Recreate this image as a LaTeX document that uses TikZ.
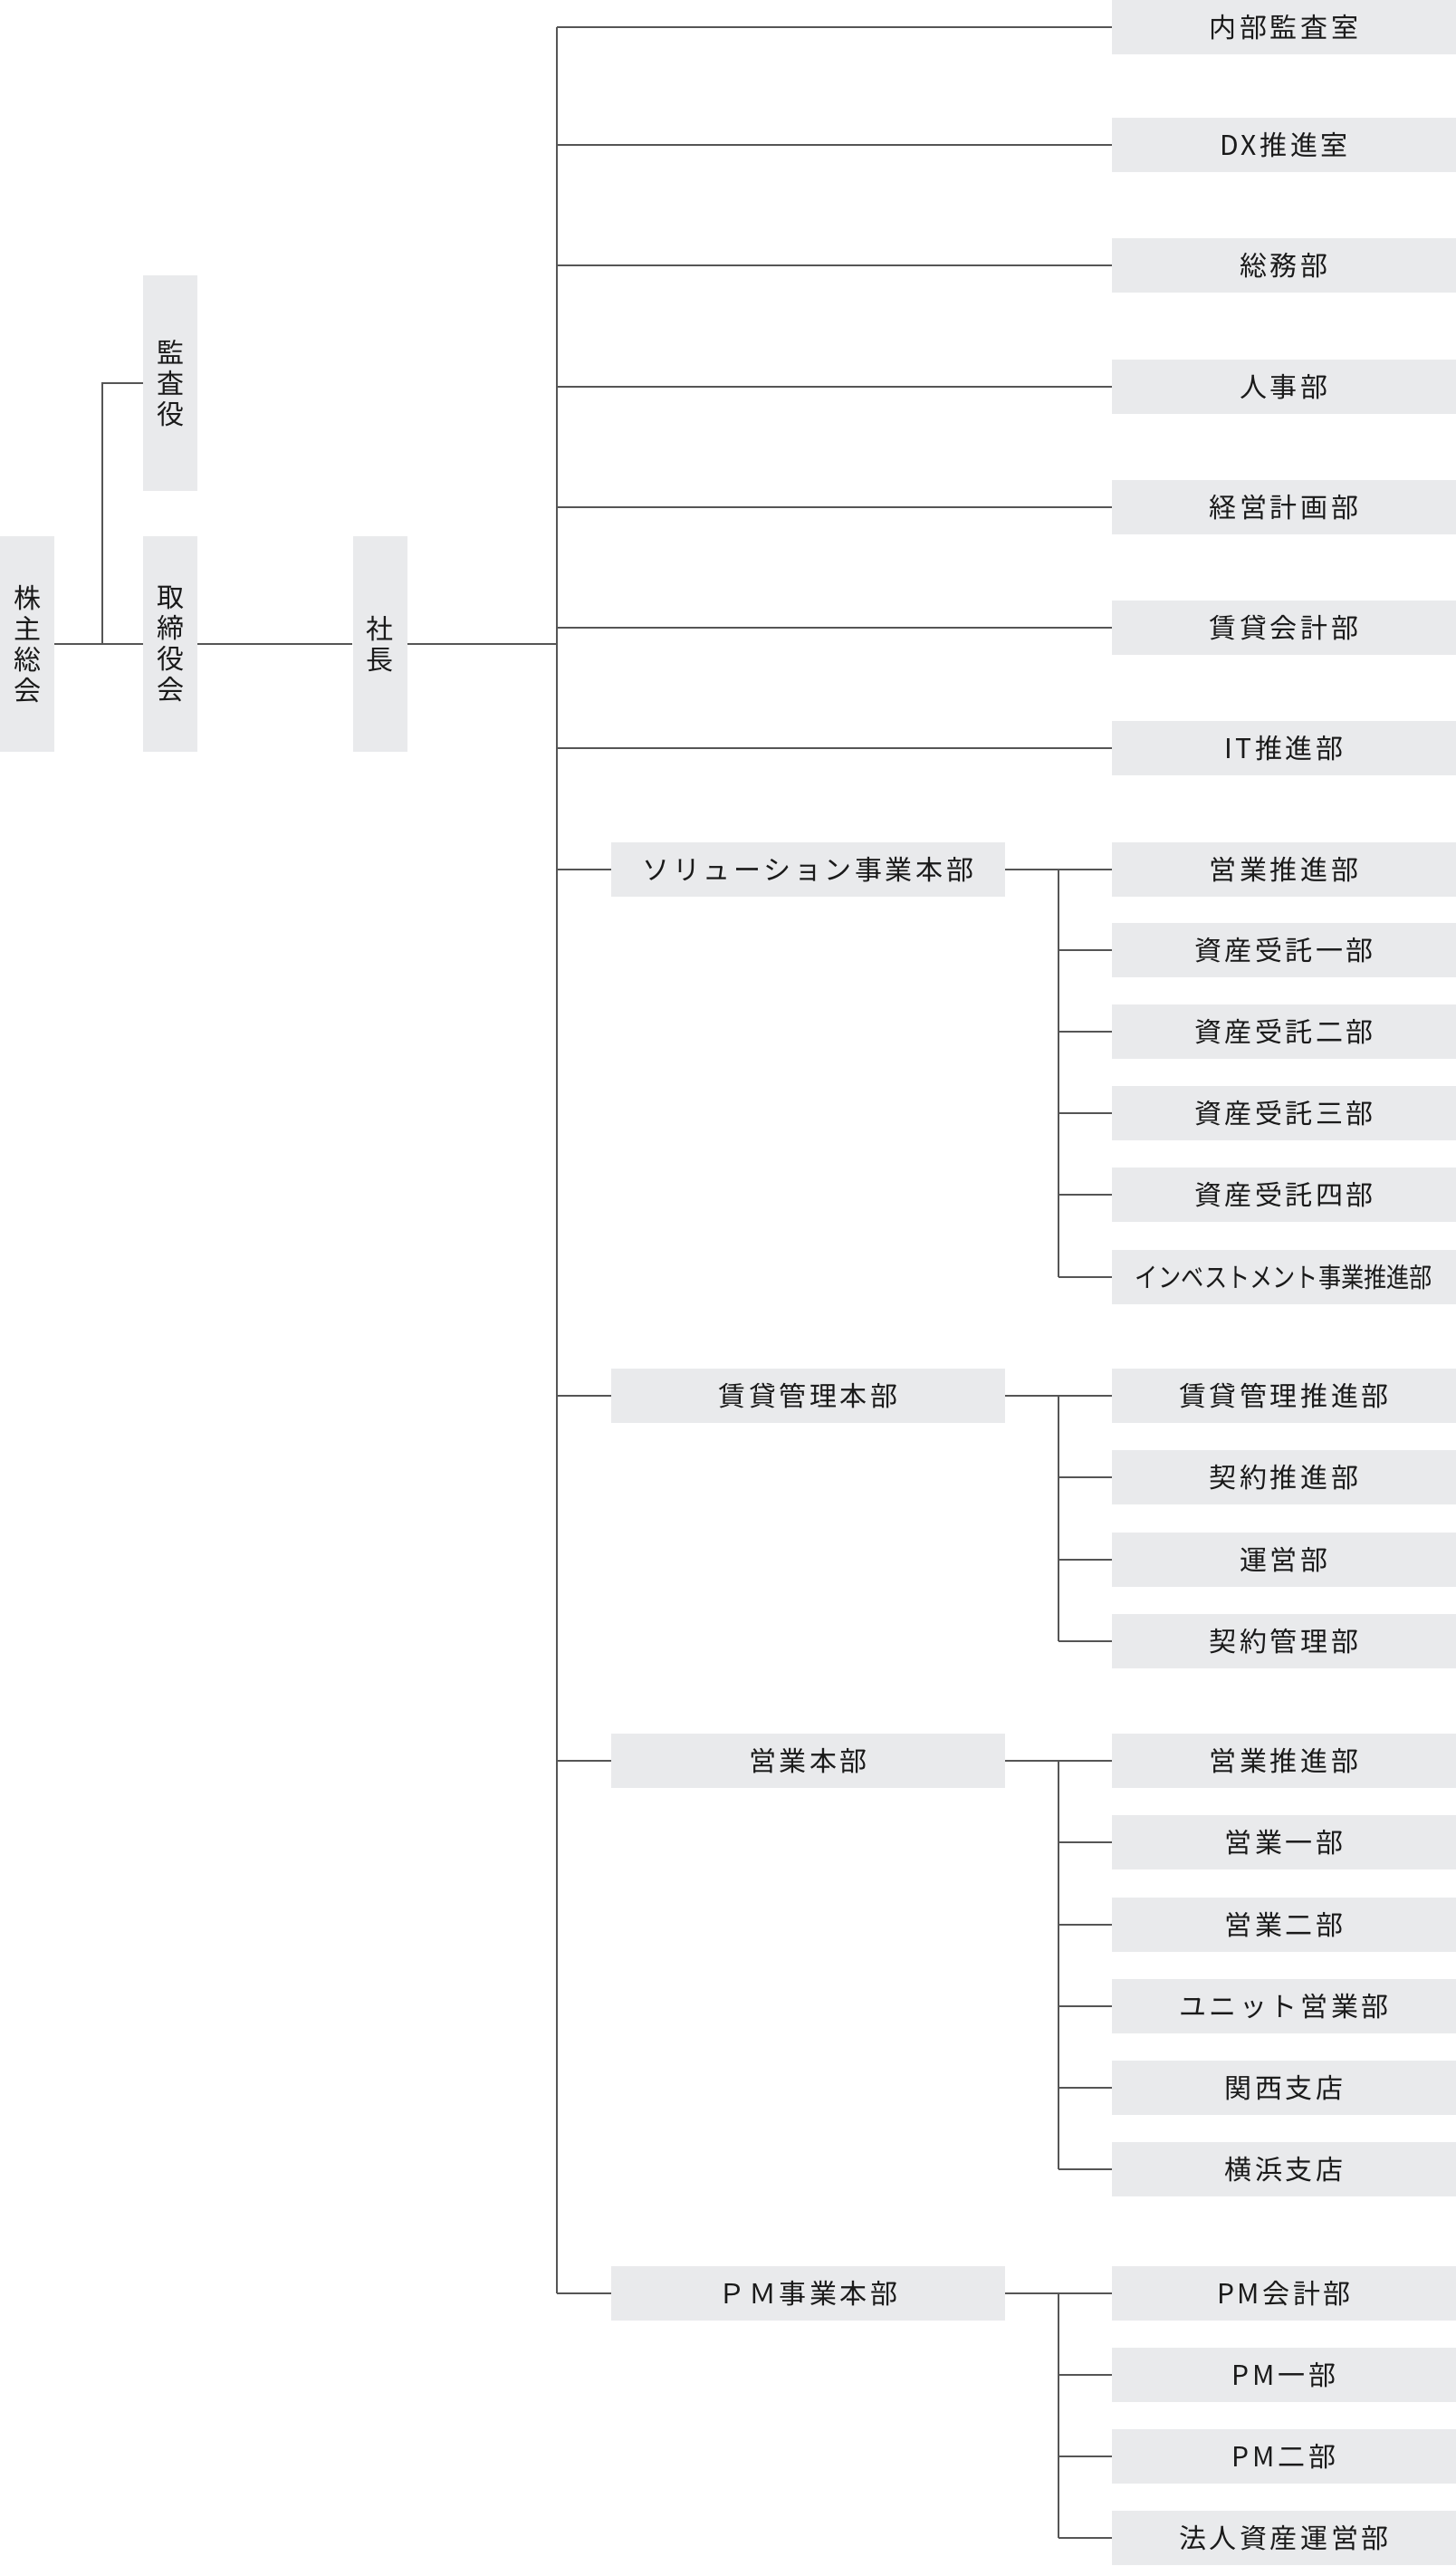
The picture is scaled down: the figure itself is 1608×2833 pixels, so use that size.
\documentclass[tikz,border=0pt]{standalone}
\usepackage{fontspec}
\usepackage{tikz,graphics}
\newfontfamily\jp[LetterSpace=12]{Noto Sans CJK JP}
\definecolor{boxgray}{HTML}{E9EAEC}
\definecolor{linegray}{HTML}{555555}
\definecolor{txt}{HTML}{1A1A1A}

\begin{document}
\begin{tikzpicture}[x=1pt, y=-1pt,
    box/.style={fill=boxgray, inner sep=0pt, text=txt, font=\jp\fontsize{30}{34}\selectfont},
    vbox/.style={box, minimum width=60, minimum height=238, align=center},
    hbox/.style={box, minimum width=435, minimum height=60},
    rbox/.style={box, minimum width=380, minimum height=60},
    line/.style={draw=linegray, line width=1.6pt}]

    \useasboundingbox (0, 0) rectangle (1608, 2833);

    \node [vbox] (a) at (30, 711) {株\\主\\総\\会};
    \node [vbox] (b) at (188, 423) {監\\査\\役};
    \node [vbox] (c) at (188, 711) {取\\締\\役\\会};
    \node [vbox] (d) at (419.5, 711) {社\\長};
    \coordinate (e) at (113, 711);
    \coordinate (t) at (615, 0);
    \coordinate (u) at (1169, 0);

    \node [rbox] (r1) at (1418, 30) {内部監査室};
    \node [rbox] (r2) at (1418, 160) {DX推進室};
    \node [rbox] (r3) at (1418, 293) {総務部};
    \node [rbox] (r4) at (1418, 427) {人事部};
    \node [rbox] (r5) at (1418, 560) {経営計画部};
    \node [rbox] (r6) at (1418, 693) {賃貸会計部};
    \node [rbox] (r7) at (1418, 826) {IT推進部};

    \node [hbox] (h1) at (892.5, 960) {ソリューション事業本部};
    \node [rbox] (s11) at (1418, 960) {営業推進部};
    \node [rbox] (s12) at (1418, 1049) {資産受託一部};
    \node [rbox] (s13) at (1418, 1139) {資産受託二部};
    \node [rbox] (s14) at (1418, 1229) {資産受託三部};
    \node [rbox] (s15) at (1418, 1319) {資産受託四部};
    \node [rbox] (s16) at (1418, 1410) {\scalebox{0.84}[1]{\addfontfeature{LetterSpace=0}インベストメント事業推進部}};

    \node [hbox] (h2) at (892.5, 1541) {賃貸管理本部};
    \node [rbox] (s21) at (1418, 1541) {賃貸管理推進部};
    \node [rbox] (s22) at (1418, 1631) {契約推進部};
    \node [rbox] (s23) at (1418, 1722) {運営部};
    \node [rbox] (s24) at (1418, 1812) {契約管理部};

    \node [hbox] (h3) at (892.5, 1944) {営業本部};
    \node [rbox] (s31) at (1418, 1944) {営業推進部};
    \node [rbox] (s32) at (1418, 2034) {営業一部};
    \node [rbox] (s33) at (1418, 2125) {営業二部};
    \node [rbox] (s34) at (1418, 2215) {ユニット営業部};
    \node [rbox] (s35) at (1418, 2305) {関西支店};
    \node [rbox] (s36) at (1418, 2395) {横浜支店};

    \node [hbox] (h4) at (892.5, 2532) {ＰＭ事業本部};
    \node [rbox] (s41) at (1418, 2532) {PM会計部};
    \node [rbox] (s42) at (1418, 2622) {PM一部};
    \node [rbox] (s43) at (1418, 2712) {PM二部};
    \node [rbox] (s44) at (1418, 2802) {法人資産運営部};

    \draw [line] (a) to (c);
    \draw [line] (e) |- (b);
    \draw [line] (c) to (d);
    \draw [line] (d) -- (d -| t);
    \draw [line] (r1 -| t) -- (h4 -| t);

    \draw [line] (r1) -- (r1 -| t);
    \draw [line] (r2) -- (r2 -| t);
    \draw [line] (r3) -- (r3 -| t);
    \draw [line] (r4) -- (r4 -| t);
    \draw [line] (r5) -- (r5 -| t);
    \draw [line] (r6) -- (r6 -| t);
    \draw [line] (r7) -- (r7 -| t);
    \draw [line] (h1) -- (h1 -| t);
    \draw [line] (h2) -- (h2 -| t);
    \draw [line] (h3) -- (h3 -| t);
    \draw [line] (h4) -- (h4 -| t);

    \draw [line] (h1) to (s11);
    \draw [line] (s11 -| u) -- (s16 -| u);
    \draw [line] (s12 -| u) -- (s12);
    \draw [line] (s13 -| u) -- (s13);
    \draw [line] (s14 -| u) -- (s14);
    \draw [line] (s15 -| u) -- (s15);
    \draw [line] (s16 -| u) -- (s16);

    \draw [line] (h2) to (s21);
    \draw [line] (s21 -| u) -- (s24 -| u);
    \draw [line] (s22 -| u) -- (s22);
    \draw [line] (s23 -| u) -- (s23);
    \draw [line] (s24 -| u) -- (s24);

    \draw [line] (h3) to (s31);
    \draw [line] (s31 -| u) -- (s36 -| u);
    \draw [line] (s32 -| u) -- (s32);
    \draw [line] (s33 -| u) -- (s33);
    \draw [line] (s34 -| u) -- (s34);
    \draw [line] (s35 -| u) -- (s35);
    \draw [line] (s36 -| u) -- (s36);

    \draw [line] (h4) to (s41);
    \draw [line] (s41 -| u) -- (s44 -| u);
    \draw [line] (s42 -| u) -- (s42);
    \draw [line] (s43 -| u) -- (s43);
    \draw [line] (s44 -| u) -- (s44);

\end{tikzpicture}
\end{document}
